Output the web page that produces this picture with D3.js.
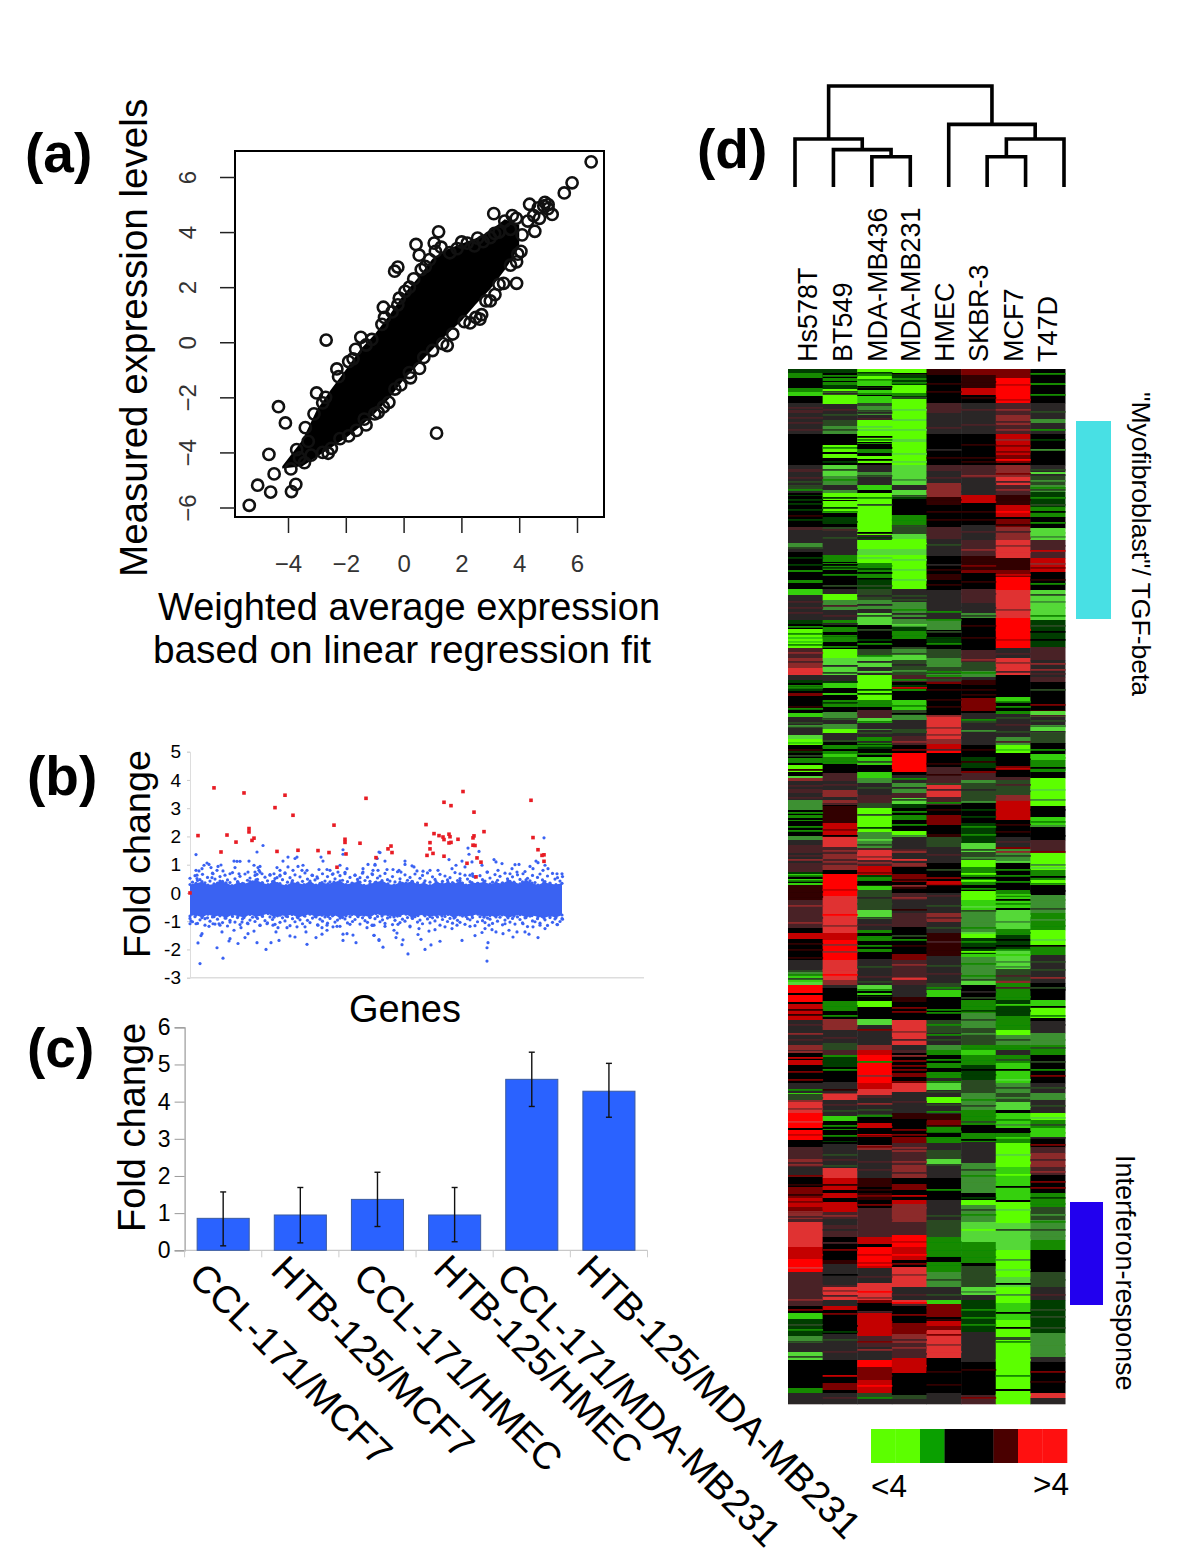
<!DOCTYPE html>
<html><head><meta charset="utf-8">
<script src="https://d3js.org/d3.v7.min.js"></script>
<style>html,body{margin:0;padding:0;background:#fff}svg{display:block}text{font-family:"Liberation Sans",Arial,sans-serif;fill:#000}</style>
</head><body><svg id="c" width="1200" height="1564">
<defs><filter id="soft" x="-2%" y="-2%" width="104%" height="104%"><feGaussianBlur stdDeviation="0.35 0.45"/></filter></defs>
</svg>
<script>
// ---------- (a) scatter: individually visible circles, [weighted, measured]
const scatterOutliers = [[6.49,6.55],[5.83,5.79],[5.56,5.42],[4.36,5.01],[4.89,5.08],[4.66,4.88],[5.14,4.64],[3.12,4.67],[4.54,4.03],[3.91,2.92],[3.46,2.14],[3.91,2.14],[1.21,4.01],[.43,3.55],[1.06,3.6],[.54,3.16],[-.2,2.73],[-.31,2.58],[.61,2.64],[-.7,1.27],[-.2,1.36],[-.66,.9],[-2.68,.08],[-1.48,.18],[-1.66,-.26],[-2.31,-.97],[-3.01,-1.84],[-4.33,-2.34],[-4.09,-2.93],[1.14,-3.3],[-4.66,-4.07],[-4.48,-4.78],[-5.05,-5.19],[-4.6,-5.44],[-5.34,-5.92],[-3.73,-5.16],[-3.88,-5.42],[-2.61,-4.03],[-3.43,-4.37],[2.64,.84],[3.16,1.73],[1.51,-.12],[.24,-1.29],[-.51,-2.18],[-.88,-2.55],[-1.36,-2.79],[-1.63,-3.2],[2.56,3.78],[2.01,3.64],[3.76,4.6],[4.06,3.3]];
const scatterRim = [[-3.9,-4.6],[-3.6,-4.2],[-3.3,-3.6],[-3.7,-3.9],[-3.2,-4.1],[-3.4,-3.1],[-3.1,-2.6],[-2.8,-2.2],[3.3,4.0],[3.5,4.4],[3.7,4.1],[3.9,4.5],[4.1,3.9],[4.3,4.4],[4.5,4.6],[4.85,4.95],[5,4.85],[4.7,4.5],[5,5],[3.0,3.8],[2.2,3.6],[1.1,3.3],[1.3,3.45],[.9,3.0],[.2,2.0],[.05,1.85],[-.4,1.1],[-1.1,.1],[-1.3,-.1],[-1.9,-.7],[1.7,.3],[2.3,.7],[2.5,.9],[2.7,1.0],[3.0,1.5],[3.3,2.1],[3.7,2.8],[3.95,3.2],[.7,-.55],[1.0,-.3],[.2,-1.1],[-.3,-1.7],[-1.0,-2.6],[-2.2,-3.5],[-2.8,-4.0],[-1.9,-3.4],[1.6,3.25],[1.85,3.4],[2.45,3.5],[2.75,3.65],[3.15,3.95],[.75,2.75],[.35,2.3],[-.15,1.6],[-.75,.65],[-1.75,-.6],[-2.25,-1.25],[-2.7,-2.0],[2.1,.75],[2.85,1.5],[1.35,-.05],[.55,-.95],[-.1,-1.55],[-.7,-2.35],[-1.3,-3.0],[-2.5,-3.85]];
// the mass of overlapping circles: its outline, read at these x values
const massX     = [-4.2,-3.5,-3,-2.5,-2,-1.5,-1,-.5,0,.5,1,1.5,2,2.5,3,3.5,4];
const massUpper = [-4.5,-3.55,-2.45,-1.7,-1.0,-.26,.29,.97,1.73,2.34,3.03,3.37,3.58,3.78,4.05,4.47,4.26];
const massLower = [-4.58,-4.5,-4.16,-3.82,-3.48,-3.07,-2.59,-2.04,-1.36,-.81,-.26,.29,.77,1.38,1.93,2.62,3.44];
const scatterXTicks = [-4,-2,0,2,4,6];
const scatterYTicks = [-6,-4,-2,0,2,4,6];

// ---------- (b) gene fold change
const redGenes = [[0,0],[8,2.03],[24,3.72],[31,1.45],[37,2.05],[46,1.8],[54,3.54],[59,2.28],[59,2.16],[62,1.86],[64,1.94],[85,3.02],[87,1.47],[95,3.46],[103,2.75],[108,1.51],[128,1.5],[139,1.43],[144,2.4],[147,.91],[155,1.9],[155,1.79],[156,1.38],[170,1.76],[176,3.35],[186,1.25],[198,1.56],[201,1.66],[202,1.43],[236,2.42],[237,1.33],[240,1.78],[240,1.56],[243,1.4],[244,2.1],[249,2.03],[254,3.21],[253,1.98],[254,1.89],[254,1.3],[259,2.08],[260,1.99],[259,1.77],[261,1.79],[261,3.09],[268,1.9],[273,3.59],[277,1.05],[283,1.95],[284,2.02],[283,1.69],[285,1.68],[284,2.86],[287,1.24],[291,1.09],[286,.57],[294,2.17],[341,3.28],[343,1.96],[348,1.53],[352,1.33],[354,1.35],[354,1.12]];
const blueUpper = [[6,1.36],[73,1.68],[67,1.45],[17,1.06],[14,.98],[12,.86],[19,1.01],[21,.9],[9,.78],[7,.63],[6,.8],[7,.51],[28,.94],[31,.99],[27,.8],[23,.68],[22,.54],[33,.78],[44,1.13],[47,1.12],[50,1.12],[45,.9],[59,1.13],[58,.74],[49,.68],[40,.68],[64,.98],[68,.9],[70,.94],[69,.8],[65,.74],[67,.66],[72,.68],[87,.9],[90,.8],[84,.68],[80,.63],[87,.54],[93,1.13],[98,1.27],[105,1.22],[107,1.27],[103,.8],[108,.94],[112,.8],[117,.8],[113,.98],[98,.92],[90,.63],[95,.71],[131,1.27],[133,1.13],[129,.83],[137,.83],[140,.8],[122,.63],[127,.57],[143,.68],[148,.74],[153,1.53],[153,1.37],[150,.98],[157,.86],[155,.68],[173,.86],[178,1.01],[173,.74],[185,.98],[189,1.45],[187,1.22],[188,.8],[165,.63],[170,.54],[182,.68],
[190,1.43],[187,1.22],[195,1.13],[185,1.01],[215,1.13],[215,1.01],[222,.96],[224,.92],[197,.83],[203,.83],[209,.8],[211,.74],[183,.8],[227,.78],[233,.77],[240,.8],[248,.8],[259,1.18],[272,1.13],[266,.98],[262,.86],[275,.92],[278,1.59],[279,1.37],[289,1.47],[282,1.1],[292,.98],[304,1.18],[306,1.1],[312,1.04],[308,.8],[297,.74],[280,.63],[283,.59],[270,.68],[325,1.0],[329,1.01],[322,.86],[320,.68],[327,.74],[340,.94],[343,.86],[346,1.13],[348,1.07],[354,1.95],[355,.98],[358,.86],[353,.8],[367,.68],[372,.68],[333,.68]];
const blueLower = [[10,-2.5],[33,-2.31],[27,-1.94],[8,-1.77],[12,-1.44],[11,-1.51],[0,-1.09],[6,-1.09],[1,-.99],[19,-1.18],[23,-1.09],[32,-1.38],[30,-1.14],[40,-1.62],[39,-1.7],[44,-1.32],[51,-1.23],[48,-1.79],[55,-1.58],[58,-1.44],[64,-1.35],[67,-1.76],[76,-2.0],[81,-1.76],[89,-1.68],[86,-1.38],[88,-1.23],[70,-1.14],[58,-1.09],[40,-1.03],[100,-1.52],[105,-1.56],[117,-1.82],[126,-1.58],[132,-1.46],[137,-1.32],[132,-1.23],[115,-1.2],[116,-1.38],[143,-1.2],[147,-1.18],[153,-1.68],[153,-1.46],[157,-1.44],[163,-1.49],[166,-1.76],[177,-1.23],[184,-1.5],[189,-1.68],[97,-1.23],[107,-1.2],[83,-1.14],[160,-1.11],[137,-1.14],[182,-1.14],[128,-1.14],[77,-1.09],[52,-1.03],[15,-.91],[29,-1.09],
[297,-2.41],[297,-1.94],[298,-1.76],[272,-1.68],[285,-1.51],[218,-2.16],[193,-1.92],[189,-1.65],[184,-1.5],[213,-1.66],[212,-1.83],[206,-1.58],[207,-1.42],[204,-1.32],[228,-1.47],[231,-1.64],[241,-1.84],[235,-2.0],[250,-1.71],[239,-1.35],[245,-1.3],[255,-1.2],[262,-1.26],[229,-1.26],[220,-1.2],[208,-1.11],[195,-1.18],[184,-1.14],[292,-1.4],[295,-1.26],[299,-1.14],[302,-1.3],[306,-1.38],[313,-1.44],[319,-1.32],[323,-1.56],[327,-1.38],[335,-1.38],[339,-1.46],[348,-1.58],[350,-1.14],[355,-1.26],[367,-1.12],[280,-1.18],[267,-1.14],[315,-1.09],[333,-1.09],[372,-.91],[343,-1.2]];
// outline of the solid blue band, one reading every six gene positions
const bandStep = 6;
const bandTop = [.3,.34,.4,.28,.32,.42,.36,.26,.38,.32,.4,.46,.36,.3,.42,.33,.26,.38,.35,.3,.42,.28,.37,.32,.38,.43,.3,.35,.4,.27,.33,.38,.44,.32,.28,.38,.35,.41,.3,.36,.26,.4,.33,.38,.32,.43,.28,.37,.34,.4,.31,.37,.33,.44,.38,.32,.46,.35,.28,.38,.33,.3,.34];
const bandBottom = [-.82,-.78,-.87,-.75,-.84,-.79,-.89,-.77,-.82,-.87,-.76,-.84,-.8,-.73,-.86,-.79,-.82,-.76,-.88,-.8,-.75,-.85,-.79,-.83,-.77,-.89,-.81,-.76,-.84,-.79,-.87,-.73,-.82,-.78,-.85,-.8,-.75,-.88,-.8,-.77,-.84,-.79,-.82,-.76,-.89,-.78,-.83,-.8,-.75,-.86,-.8,-.85,-.78,-.88,-.82,-.77,-.87,-.8,-.84,-.89,-.82,-.87,-.78];
// fringe dots just outside the band, one every 2.5 gene positions
const fringeStep = 2.5;
const fringeTop = [.52,.38,.61,.44,.47,.66,.36,.55,.42,.7,.49,.35,.58,.41,.63,.46,.37,.72,.5,.4,.59,.34,.67,.45,.53,.39,.62,.48,.74,.36,.56,.43,.65,.4,.51,.33,.6,.47,.69,.38,.54,.44,.64,.35,.57,.41,.71,.49,.37,.62,.46,.52,.34,.68,.42,.58,.39,.66,.5,.36,.61,.45,.73,.4,.55,.33,.63,.48,.38,.7,.44,.56,.41,.65,.37,.53,.6,.35,.69,.47,.42,.58,.39,.75,.5,.34,.64,.45,.55,.4,.67,.36,.52,.62,.43,.71,.38,.57,.48,.33,.66,.41,.6,.46,.54,.37,.72,.44,.51,.35,.63,.49,.4,.68,.56,.34,.61,.47,.42,.74,.53,.38,.65,.45,.59,.36,.7,.5,.41,.57,.33,.64,.48,.39,.76,.52,.43,.62,.37,.55,.67,.46,.4,.6,.35,.69,.49,.54,.42,.58];
const fringeBottom = [-.9,-1.02,-.84,-1.08,-.95,-.82,-1.14,-.88,-1,-.85,-1.1,-.93,-.81,-1.05,-.89,-1.17,-.97,-.83,-1.03,-.87,-1.12,-.92,-.8,-1.07,-.96,-.86,-1.01,-.9,-1.15,-.83,-.98,-1.06,-.85,-.94,-1.11,-.81,-1.04,-.88,-.99,-.84,-1.16,-.91,-1.02,-.86,-.95,-1.09,-.82,-.97,-1.05,-.89,-.83,-1.13,-.93,-1,-.85,-1.07,-.9,-.81,-1.03,-.96,-1.18,-.87,-.92,-1.06,-.84,-1.01,-.94,-.8,-1.1,-.88,-.98,-1.04,-.86,-1.15,-.91,-.83,-1.02,-.95,-1.08,-.89,-.85,-1.12,-.97,-.82,-1.05,-.93,-1,-.87,-1.17,-.9,-.84,-1.03,-.96,-1.09,-.81,-.92,-1.06,-.88,-.99,-.85,-1.14,-.94,-.83,-1.01,-.9,-1.07,-.86,-.97,-1.04,-.82,-1.11,-.91,-.95,-.87,-1.16,-1.02,-.84,-.98,-1.05,-.89,-.93,-1.08,-.8,-1,-.86,-1.13,-.96,-.83,-1.03,-.9,-1.1,-.85,-.94,-1.06,-.88,-1.19,-.82,-.99,-1.02,-.91,-1.07,-.84,-.95,-1.15,-.87,-1.04,-.92,-1.12,-1.01,-.93];
const geneTicks = [-3,-2,-1,0,1,2,3,4,5];

// ---------- (c) bars
const barLabels = ["CCL-171/MCF7","HTB-125/MCF7","CCL-171/HMEC","HTB-125/HMEC","CCL-171/MDA-MB231","HTB-125/MDA-MB231"];
const barValues = [.86,.95,1.37,.95,4.6,4.28];
const barHigh   = [1.57,1.69,2.1,1.69,5.33,5.03];
const barLow    = [.12,.2,.64,.23,3.87,3.58];

// ---------- (d) heatmap. One string per cell line; each token = colour level + last row of the run
const cellLines = ["Hs578T","BT549","MDA-MB436","MDA-MB231","HMEC","SKBR-3","MCF7","T47D"];
const levelCodes  = ["a","b","c","d","z","g","h","i","j","k","l","m","e","f","r","s"];
const levelColors = ["#5cff00","#35d008","#128a00","#063c00","#000000","#2a2727","#2a4a24","#3d9030","#55d838","#4a2428","#8c2a2c","#e03032","#300000","#7a0000","#c40000","#ff0000"];
const hs578T = "d4 c9 z12 z19 c23 b27 z34 g42 k44 g65 z96 g100 k103 g118 h122 g124 z126 d127 z158 k161 g174 i179 g183 z201 c203 z211 c214 z220 b226 g251 d255 z260 a268 b270 a279 k289 l296 l299 m306 g311 d314 z320 d322 z324 f327 z344 b348 g357 h359 g366 j370 a376 z380 e384 z389 c394 z396 a403 z407 j409 l412 g420 k424 g431 i441 z446 c449 z451 c452 z460 z467 i471 g476 k484 g494 k503 d505 b507 z510 b512 z514 b516 e531 k544 k559 z564 r570 z591 g601 h603 i607 b613 j616 s624 z626 s633 z635 r651 g676 l681 k682 l684 z691 r696 z714 g724 b725 h731 l733 m744 s759 z761 s771 z778 k790 l793 k798 g808 z818 f829 r838 f844 l850 k853 m878 r890 s903 k937 z944 b950 d967 i974 g983 j991 z1019 c1024 g1035";
const bt549 = "d4 z9 c12 z13 c16 d20 a35 g51 h57 i65 z76 a83 z85 a89 z96 j107 i116 g121 i124 a131 z132 a144 z148 d155 z158 h162 g186 c193 z194 c201 z220 g225 a231 i241 g251 c256 z258 c263 z268 c273 z280 a289 j306 g314 b319 z324 b326 z331 c338 z341 c336 z338 c340 z343 i351 g355 i360 a365 g371 h373 z376 c380 z383 c385 b388 c395 z404 k412 g421 l428 g431 l436 z437 e454 r468 m478 k485 l490 k497 l501 z505 s527 m564 r571 s591 m611 l616 g619 z632 c642 z650 l661 g674 h681 k686 c688 d698 z713 g724 l725 m731 g747 b752 z760 c761 z772 d773 z775 g799 m809 r821 z824 r829 z833 r843 k850 g856 k868 z891 e895 g916 k918 m931 g937 r941 z965 g991 z1014 f1021 z1024 g1035";
const mdaMb436 = "a5 c7 a12 b14 b19 z21 b24 c26 z27 b34 h37 i46 g51 a60 j62 a73 z74 c75 z80 c84 z87 a94 z96 g103 i108 g116 b121 z124 a166 g171 a180 j186 a194 c199 d201 c211 d220 h231 i240 g244 j256 z270 d272 z280 h287 j298 g306 a331 c338 z341 c336 z338 k349 j354 g360 i361 g368 c375 d380 z388 b396 z403 b409 i414 g426 k434 h439 a463 i479 k481 m491 k497 r506 d508 c512 z516 b521 h541 j550 g561 c564 z568 c572 z580 c583 z590 g616 j622 z624 b628 z632 a638 z650 j656 g676 l681 r686 s714 r720 m726 k729 g745 h748 z754 r759 z765 r768 z772 z776 l781 g809 e818 z824 e831 z839 k844 k868 r875 z878 s893 r899 g914 m931 f934 z938 z944 r967 k978 g991 s998 f1011 r1024 h1030 g1035";
const mdaMb231 = "a6 d9 c11 d16 a24 c27 d30 a50 j52 a70 j73 a96 j116 g121 j128 d130 z146 c158 h165 j170 a180 j186 a220 g233 i248 g250 i258 d262 c270 z278 h280 i285 j291 h306 k313 z320 c322 z325 z331 b341 z333 a340 h345 i351 g360 h364 g367 k376 z384 s403 z406 g414 i424 k429 j435 d439 z446 c451 z462 a468 g481 l484 g494 l497 z505 f513 z518 e520 z524 k531 g544 k558 z572 z585 f591 k601 k608 l611 k616 g628 e633 z651 m676 g681 k684 z691 f693 z704 f708 z714 m723 g728 g744 e750 z768 f774 k781 l783 k796 l809 z815 f821 z831 r835 l853 k854 k866 s878 r891 z898 m918 g931 m933 k937 z954 f965 l974 k989 r1004 z1026 h1030 g1035";
const hmec = "e6 z34 k44 g65 z96 k102 g114 l128 e136 z158 k170 g187 z205 e211 z221 g251 i261 z270 d275 z280 h289 i298 h305 i308 k313 f315 z341 z346 m370 l375 r381 s384 z398 k412 k416 m428 k431 k436 z446 f456 z465 e468 h478 g494 z508 f510 z512 r516 z524 g528 g544 l553 g564 e587 g614 h621 b628 z651 h664 g676 i681 c686 z694 c699 z703 c709 g714 j721 g728 a734 g745 e751 f756 c763 z768 c774 g781 h790 j796 g809 z831 g851 h868 c878 c888 z893 c903 i918 g931 b935 f948 z952 r957 f961 m989 z1024 g1035";
const skbr3 = "f6 e19 r26 z34 g65 z96 k104 k109 g126 r134 z156 g171 k187 e201 f204 z220 k234 g244 i249 z281 k293 h302 i308 g311 e316 z329 f341 f342 z344 g356 g358 g376 z388 d399 z403 f404 k411 i414 h434 z454 d474 j483 h491 a498 c516 z522 a531 b543 i546 i564 a569 d585 b588 i611 j616 z631 c644 i659 h676 c681 b686 c696 d711 h724 i741 c756 z764 c773 g794 i824 z831 a836 i853 j873 c894 z897 h918 j926 g931 d963 g993 z1026 k1035";
const mcf7 = "f9 s34 k46 l56 k65 r86 f94 z96 l108 m116 k126 e136 r148 z150 f158 l171 m189 e201 f208 s221 m249 s279 g289 m306 z328 b333 z341 z342 c345 g368 i376 a384 z397 f400 z408 k411 h426 l431 r451 z468 g478 f480 i494 z521 c528 b539 z541 j560 c566 d581 j600 h611 l614 c631 d647 c661 a666 i676 c681 g686 c694 b714 i724 h733 j741 z744 b759 z764 c774 a798 b831 z833 a854 j881 a908 j918 a934 b951 a968 h971 a1020 z1022 a1035";
const t47d = "z14 c16 z34 g50 i54 g65 z96 g103 j106 h116 i123 d138 c148 z159 j171 k189 r203 z221 j251 d278 k291 g308 k313 z341 e342 j348 g358 j364 h374 z385 b391 c403 z409 a437 z448 b458 z471 k484 a501 c511 a516 z526 i534 i544 c561 a578 c586 g614 z631 b639 a649 z652 g664 i676 c681 c686 z714 g724 i731 g744 a751 c759 b768 z778 k784 l798 k806 z824 c838 h851 i871 c881 z903 h918 g931 d951 d964 i988 g993 z1024 m1029 g1035";
const heatColumns = [hs578T,bt549,mdaMb436,mdaMb231,hmec,skbr3,mcf7,t47d];
// single thin rows laid over the runs: colour level + row
const hs578Tlines = "k38 k41 k48 k53 k60 k100 k108 h112 h116 c120 d130 d134 d140 e146 d150 h178 d188 d195 k232 k238 k243 c257 c264 b272 c275 l283 k292 m302 c316 c318 e337 c339 h353 i356 b373 d382 h386 c392 e400 k416 k428 c443 c457 c461 k486 l490 c506 c511 e522 e527 l536 k548 l553 e574 e580 e588 c605 h609 e640 e645 k655 l664 k670 r688 f702 f710 c720 h728 l739 m752 r765 k782 k786 l795 f806 e815 e825 f832 l842 k847 r885 m898 k915 k925 l930 f940 h955 c960 h972 h987";
const bt549lines = "c6 h22 g24 k40 h45 h60 c78 d92 h100 c110 g119 d128 d138 c142 d152 k160 h168 g180 z195 d198 c205 h216 k236 k246 g254 c266 c277 g296 h303 d312 z328 d333 h349 g364 c377 c382 c391 k415 l425 k434 f460 z466 l481 l492 l496 r520 s545 l556 l575 l582 m600 s605 c636 c646 l656 k668 d692 c700 e720 k735 h741 c756 c766 h785 k790 h796 e815 r826 r838 l846 g860 k873 f880 z905 l921 k926 f944 z956 d962 h970 k982 r1006 k1028";
const mdaMb436lines = "d3 c10 z17 h41 g43 k49 j57 z67 c70 z78 c82 z90 h106 c128 h135 z163 d168 j183 j188 c196 z203 z209 h216 g226 g235 h246 j250 h260 z266 c274 c286 g292 j302 d320 d324 c334 k344 c352 h363 g372 c376 c384 h392 z400 h418 k430 h445 d458 j470 h475 l487 l493 f503 c510 z515 g528 h534 h548 k555 c567 c576 h597 k607 h612 c620 z626 f660 g668 c692 s700 l706 l734 h740 c746 r757 f766 f777 k792 k800 e820 f826 f835 k850 k860 r872 r885 s895 k907 s922 l928 k942 r952 r958 f972 l980 f1000 f1006 s1016 c1028";
const mdaMb231lines = "z4 c13 h28 j40 j60 j84 j92 i110 g118 h126 c150 h156 a174 j190 j200 j210 h226 h230 c240 g244 j255 c265 z273 h284 g295 i301 c310 d316 r318 c336 z344 i349 g358 h362 l372 f380 c409 g418 h430 c442 c455 i466 k480 m490 l496 e510 l516 l528 e540 k552 h566 c570 e576 l595 k604 m609 g624 f638 f642 l662 k670 l686 f696 f700 f712 k732 g736 z750 f760 f765 l778 k788 l792 k803 l806 f819 r826 l838 l846 k860 r872 s885 f894 l905 k925 s933 f945 f960 k970 l978 k984 r996 g1030";
const hmeclines = "e14 e22 k38 k58 g80 e88 k108 l122 e130 e142 e150 k165 h175 g195 e200 e215 c242 c250 h262 d268 c274 h285 i294 c302 c306 h310 e320 e330 e337 l346 l358 l365 k380 e394 e405 h414 k420 c433 e440 h470 k485 h500 e515 r514 k526 h536 k548 h558 k572 e580 h596 k604 c618 c640 c643 c655 c665 h670 c690 c704 c712 h722 h735 c742 e756 c762 c768 h785 h795 c820 h846 h860 c872 c880 c886 c895 h910 h925 f938 f946 e950 f965 l975 m982 e1002 e1015";
const skbr3lines = "e12 e15 e28 k40 k55 e75 e88 e92 k100 l106 g114 g122 r132 e142 e150 k162 k176 l180 e192 f196 e212 k224 g238 h246 e256 e268 k285 l290 h298 c303 e320 e325 f335 c350 h352 i361 g368 e380 e392 d396 f402 k408 g420 h427 i432 d440 d447 c457 c465 h480 i488 a504 z508 a511 c519 a526 j537 h541 i552 c558 j563 c572 z578 a582 c594 c606 h610 g622 h628 c636 d641 h650 i664 c678 c690 z700 d705 h716 c730 h736 c746 h752 z759 z770 g785 h800 c806 i812 d828 a834 h840 c845 a860 c880 c887 h905 i922 c940 c948 c955 e1000 f1028";
const mcf7lines = "r15 r30 l40 k52 l60 l70 f76 f82 s90 f104 k112 l120 e130 s142 e155 k162 l168 l176 m182 r205 l240 s260 r270 k284 l293 k302 c332 c337 h348 k355 h362 k372 b380 z389 r399 k415 h421 l430 e455 e462 k472 l482 h486 j492 c500 c506 c512 b525 z530 c534 j546 i552 j556 c563 z570 z576 c580 b585 i592 i597 k606 h610 k618 c627 b635 d641 c655 h670 c678 h690 z700 j710 h718 i728 j737 c750 i755 z762 b768 j785 a793 a805 z817 j840 h860 j870 i890 j900 z914 i925 z943 z958 c972 a990 c1006 a1025";
const t47dlines = "c4 c25 h42 c60 d70 i80 h100 g105 i111 c118 h120 c128 h135 z142 c153 j163 i167 k176 r181 l194 f198 e210 c214 h225 i232 j238 c246 h256 z262 z270 l294 l300 k304 h320 f335 k346 h351 i356 g362 c380 b388 z398 c400 j420 i430 z440 c452 i456 z466 f482 i495 j498 z507 c514 z521 i530 h539 i550 c556 j570 z576 h592 h600 l608 h618 z620 z637 c646 g655 i670 h678 h692 c700 f706 h718 i729 h736 j748 h755 b763 g768 f775 k790 l796 l802 f812 f818 d828 c834 i845 c852 h860 i866 z890 h910 k925 h940 h947 h958 i975 i984 f1002 e1012";
const heatLines = [hs578Tlines,bt549lines,mdaMb436lines,mdaMb231lines,hmeclines,skbr3lines,mcf7lines,t47dlines];
const heatRows = 1035;
const legendCells = ["#5cff00","#5cff00","#0aa000","#000000","#000000","#4a0000","#ff1010","#ff1010"];
// dendrogram: leaves are cell lines, number = merge height
const dendroTree = {h:10,c:[{h:4.75,c:[{n:"Hs578T"},{h:3.7,c:[{n:"BT549"},{h:3,c:[{n:"MDA-MB436"},{n:"MDA-MB231"}]}]}]},{h:6.2,c:[{n:"HMEC"},{h:4.75,c:[{h:3,c:[{n:"SKBR-3"},{n:"MCF7"}]},{n:"T47D"}]}]}]};

const svg = d3.select("#c");
function label(txt,x,y,size,opts={}){
  const t=svg.append("text").attr("transform",`translate(${x},${y}) rotate(${opts.rot||0})`).attr("font-size",size).attr("text-anchor",opts.anchor||"start").text(txt);
  if(opts.bold)t.attr("font-weight","bold");
  if(opts.fill)t.style("fill",opts.fill);
  return t;
}
label("(a)",25,172,55,{bold:true});
label("(b)",27,795,55,{bold:true});
label("(c)",27,1067,55,{bold:true});
label("(d)",697,168,55,{bold:true});

// ----- panel a
{
  const x=d3.scaleLinear().domain([-4,6]).range([288,577]);
  const y=d3.scaleLinear().domain([-6,6]).range([507.5,177]);
  const g=svg.append("g");
  g.append("rect").attr("x",235).attr("y",151).attr("width",369).attr("height",366).attr("fill","none").attr("stroke","#000").attr("stroke-width",2);
  const area=d3.area().x((d,i)=>x(massX[i])).y0((d,i)=>y(massLower[i])).y1((d,i)=>y(massUpper[i]));
  g.append("path").attr("d",area(massX)).attr("fill","#000");
  const pts=[...scatterOutliers,...scatterRim];
  g.selectAll("circle").data(pts).join("circle").attr("cx",d=>x(d[0])).attr("cy",d=>y(d[1])).attr("r",5.6).attr("fill","none").attr("stroke","#111").attr("stroke-width",2.6);
  const ax=g.append("g").attr("transform","translate(0,517)").call(d3.axisBottom(x).tickValues(scatterXTicks).tickSize(16).tickPadding(22));
  ax.select(".domain").remove();
  ax.selectAll("line").attr("stroke","#222").attr("stroke-width",1.5);
  ax.selectAll("text").attr("font-size",24).attr("font-family","Liberation Sans").style("fill","#333");
  const ay=g.append("g").attr("transform","translate(235,0)").call(d3.axisLeft(y).tickValues(scatterYTicks).tickSize(15).tickFormat(d3.format("d")));
  ay.select(".domain").remove();
  ay.selectAll("line").attr("stroke","#222").attr("stroke-width",1.5);
  ay.selectAll("text").attr("font-size",24).attr("font-family","Liberation Sans").style("fill","#333").attr("text-anchor","middle").attr("dy",0)
    .attr("transform",d=>`translate(-47,0) rotate(-90)`).attr("x",0).attr("y",8);
  label("Measured expression levels",147,577,38.6,{rot:-90});
  label("Weighted average expression",409,620,38,{anchor:"middle"});
  label("based on linear regression fit",402,663,38.8,{anchor:"middle"});
}

// ----- panel b
{
  const x=d3.scaleLinear().domain([0,454]).range([190,644]);
  const y=d3.scaleLinear().domain([-3,5]).range([977.7,751.7]);
  const g=svg.append("g");
  const ay=g.append("g").attr("transform","translate(190,0)").call(d3.axisLeft(y).tickValues(geneTicks).tickSize(3).tickPadding(6).tickFormat(d3.format(".0f")));
  ay.select(".domain").attr("stroke","#ddd");
  ay.selectAll("line").attr("stroke","#ccc");
  ay.selectAll("text").attr("font-size",19).attr("font-family","Liberation Sans").style("fill","#000").each(function(d){d3.select(this).text(String(d));});
  g.append("line").attr("x1",x(0)).attr("x2",x(454)).attr("y1",y(-3)).attr("y2",y(-3)).attr("stroke","#ddd").attr("stroke-width",1.5);
  const blue="#3a62f2";
  const area=d3.area().x((d,i)=>x(i*bandStep)).y0((d,i)=>y(bandBottom[i])).y1((d,i)=>y(bandTop[i]));
  g.append("path").attr("d",area(bandTop)).attr("fill",blue);
  const pts=[...blueUpper,...blueLower,...bandTop.map((v,i)=>[i*bandStep,v]),...bandBottom.map((v,i)=>[i*bandStep,v]),
    ...fringeTop.map((v,i)=>[i*fringeStep,v]),...fringeBottom.map((v,i)=>[i*fringeStep,v])];
  g.selectAll("circle.b").data(pts).join("circle").attr("class","b").attr("cx",d=>x(d[0])).attr("cy",d=>y(d[1])).attr("r",1.6).attr("fill",blue);
  g.selectAll("rect.r").data(redGenes).join("rect").attr("class","r").attr("x",d=>x(d[0])-1.8).attr("y",d=>y(d[1])-1.8).attr("width",3.6).attr("height",3.6).attr("fill","#e81c24");
  label("Fold change",150,958,37.8,{rot:-90});
  label("Genes",405,1022,38,{anchor:"middle"});
}

// ----- panel c
{
  const x=d3.scaleBand().domain(barLabels).range([184.6,647.5]).paddingInner(.325).paddingOuter(.1625);
  const y=d3.scaleLinear().domain([0,6]).range([1250.3,1027.3]);
  const g=svg.append("g");
  const ay=g.append("g").attr("transform","translate(184.6,0)").call(d3.axisLeft(y).ticks(6).tickSize(10).tickPadding(4));
  ay.select(".domain").attr("stroke","#999").attr("stroke-width",1.2);
  ay.selectAll("line").attr("stroke","#999");
  ay.selectAll("text").attr("font-size",23).attr("font-family","Liberation Sans").style("fill","#000");
  const base=g.append("g");
  base.append("line").attr("x1",184.6).attr("x2",647.5).attr("y1",y(0)).attr("y2",y(0)).attr("stroke","#bbb");
  base.selectAll("line.t").data(barLabels.concat(["end"])).join("line").attr("class","t")
    .attr("x1",(d,i)=>184.6+i*(647.5-184.6)/6).attr("x2",(d,i)=>184.6+i*(647.5-184.6)/6).attr("y1",y(0)).attr("y2",y(0)+7).attr("stroke","#ccc");
  g.selectAll("rect.bar").data(barLabels).join("rect").attr("class","bar").attr("x",d=>x(d)).attr("width",x.bandwidth())
    .attr("y",(d,i)=>y(barValues[i])).attr("height",(d,i)=>y(0)-y(barValues[i])).attr("fill","#2a62ff").attr("stroke","#3a5aa0").attr("stroke-width",1);
  const mid=d=>x(d)+x.bandwidth()/2;
  const eb=g.selectAll("g.eb").data(barLabels).join("g").attr("class","eb");
  eb.append("line").attr("x1",mid).attr("x2",mid).attr("y1",(d,i)=>y(barHigh[i])).attr("y2",(d,i)=>y(barLow[i])).attr("stroke","#111").attr("stroke-width",1.4);
  eb.append("line").attr("x1",d=>mid(d)-3).attr("x2",d=>mid(d)+3).attr("y1",(d,i)=>y(barHigh[i])).attr("y2",(d,i)=>y(barHigh[i])).attr("stroke","#111").attr("stroke-width",1.4);
  eb.append("line").attr("x1",d=>mid(d)-3).attr("x2",d=>mid(d)+3).attr("y1",(d,i)=>y(barLow[i])).attr("y2",(d,i)=>y(barLow[i])).attr("stroke","#111").attr("stroke-width",1.4);
  const labelNudge=[[-36,1279],[-31,1272],[-26,1279],[-23,1271],[-37,1279],[-34,1271]];
  barLabels.forEach((d,i)=>label(d,mid(d)+labelNudge[i][0],labelNudge[i][1],38.2,{rot:45}));
  label("Fold change",145,1232,38,{rot:-90});
}

// ----- panel d
{
  const x=d3.scaleBand().domain(cellLines).range([788,1065]);
  const y=d3.scaleLinear().domain([0,heatRows]).range([369,1404]);
  const colour=d3.scaleOrdinal().domain(levelCodes).range(levelColors);
  const cells=[];
  heatColumns.forEach((s,ci)=>{
    let prev=0;
    s.split(" ").forEach(tok=>{
      const end=+tok.slice(1);
      if(end>prev){cells.push({line:cellLines[ci],code:tok[0],start:prev,end});prev=end;}
    });
  });
  heatLines.forEach((s,ci)=>{
    s.split(" ").forEach(tok=>{
      const r=+tok.slice(1);
      cells.push({line:cellLines[ci],code:tok[0],start:r,end:r+1.5});
    });
  });
  const g=svg.append("g").attr("filter","url(#soft)");
  g.selectAll("rect").data(cells).join("rect").attr("x",d=>x(d.line)).attr("width",x.bandwidth()+.5)
    .attr("y",d=>y(d.start)).attr("height",d=>y(d.end)-y(d.start)+.3).attr("fill",d=>colour(d.code));

  // dendrogram
  const leaf=d3.scalePoint().domain(cellLines).range([795,1064]);
  const h=d3.scaleLinear().domain([0,10]).range([187,86]);
  const root=d3.hierarchy(dendroTree,d=>d.c);
  const line=[];
  root.eachAfter(n=>{
    if(!n.children){n.px=leaf(n.data.n);n.hh=0;return;}
    n.hh=n.data.h; n.px=(n.children[0].px+n.children[1].px)/2;
  });
  root.each(n=>{ if(n.children){ const [a,b]=n.children;
    line.push(`M${a.px},${h(a.hh)}V${h(n.hh)}H${b.px}V${h(b.hh)}`);} });
  svg.append("g").selectAll("path").data(line).join("path").attr("d",d=>d).attr("fill","none").attr("stroke","#000").attr("stroke-width",3.6);

  const base=[817,852,887,920,954,988,1023,1057];
  cellLines.forEach((d,i)=>label(d,base[i],362,27,{rot:-90}));

  // annotation bars
  svg.append("rect").attr("x",1076).attr("width",35).attr("y",y(52)).attr("height",y(250)-y(52)).attr("fill","#48e0e4");
  svg.append("rect").attr("x",1070).attr("width",33).attr("y",y(833)).attr("height",y(936)-y(833)).attr("fill","#2200ee");
  label("\"Myofibroblast\"/ TGF-beta",1132,392,26.5,{rot:90});
  label("Interferon-response",1116,1155,27,{rot:90});

  // colour key
  const lx=d3.scaleBand().domain(d3.range(legendCells.length)).range([871,1067]);
  svg.append("g").selectAll("rect").data(legendCells).join("rect").attr("x",(d,i)=>lx(i)).attr("width",lx.bandwidth()+.3).attr("y",1429).attr("height",34).attr("fill",d=>d);
  label("<4",871,1497,31.5);
  label(">4",1069,1495,31.5,{anchor:"end"});
}
</script></body></html>
